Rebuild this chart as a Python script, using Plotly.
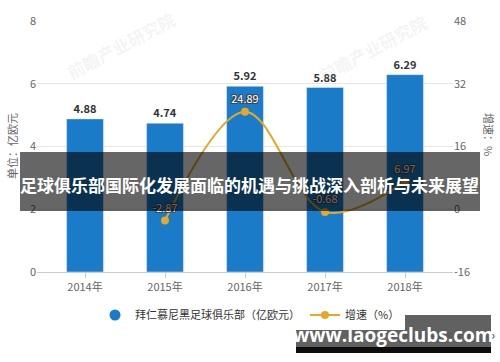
import plotly.graph_objects as go

categories = ["2014年", "2015年", "2016年", "2017年", "2018年"]
revenue = [4.88, 4.74, 5.92, 5.88, 6.29]
growth_x = ["2015年", "2016年", "2017年", "2018年"]
growth = [-2.87, 24.89, -0.68, 6.97]
left_ticks = [0, 2, 4, 6, 8]
right_ticks = [-16, 0, 16, 32, 48]
right_tick_text = ["-16", "0", "16", "32", "48"]

W, H = 500, 362
L, R, T, B = 37, 453, 21, 272


def px(x):
    return (x - L) / (R - L)


def py(y):
    return (B - y) / (B - T)


FONT = "Noto Sans CJK SC, Noto Sans, sans-serif"
BLUE = "#1a7bc9"
GOLD = "#e5a828"

fig = go.Figure()
fig.add_trace(go.Bar(
    x=categories, y=revenue, width=0.46, marker_color=BLUE,
    text=[f"{v:.2f}" for v in revenue], textposition="outside",
    textfont=dict(size=11, color="#333333", family=FONT, weight="bold"),
    cliponaxis=False, showlegend=False, yaxis="y",
))
fig.add_trace(go.Scatter(
    x=[None], y=[None], mode="markers", name="拜仁慕尼黑足球俱乐部（亿欧元）",
    marker=dict(color=BLUE, size=11, symbol="circle"), yaxis="y",
))
fig.add_trace(go.Scatter(
    x=growth_x, y=growth, mode="lines+markers+text", name="增速（%）",
    line=dict(color=GOLD, width=2, shape="spline"),
    marker=dict(color=GOLD, size=8),
    text=[f"{v:.2f}" for v in growth], textposition="top center",
    textfont=dict(size=11, color="white", family=FONT,
                  shadow="-1px -1px 0 #444, 1px -1px 0 #444, -1px 1px 0 #444, 1px 1px 0 #444"),
    cliponaxis=False, yaxis="y2",
))

shapes = [
    dict(type="rect", xref="paper", yref="paper", x0=px(20), x1=px(480), y0=py(152), y1=py(211),
         fillcolor="rgba(0,0,0,0.6)", line_width=0, layer="above"),
    dict(type="rect", xref="paper", yref="paper", x0=px(296), x1=px(491), y0=py(315), y1=py(347),
         fillcolor="rgba(0,0,0,0.62)", line_width=0, layer="above"),
    dict(type="rect", xref="paper", yref="paper", x0=px(296), x1=px(491), y0=py(347), y1=py(353),
         fillcolor="rgba(0,0,0,0.95)", line_width=0, layer="above"),
]


def ann(text, x, y, **kw):
    d = dict(text=text, x=px(x), y=py(y), xref="paper", yref="paper", showarrow=False,
             xanchor="center", yanchor="middle")
    d.update(kw)
    return d


annotations = [
    ann("前瞻产业研究院", 120, 45, textangle=-28,
        font=dict(size=17, color="rgba(170,170,170,0.14)", family=FONT, weight="bold")),
    ann("前瞻产业研究院", 372, 48, textangle=-28,
        font=dict(size=17, color="rgba(170,170,170,0.14)", family=FONT, weight="bold")),
    ann("单位：亿欧元", 12, 146, textangle=-90, font=dict(size=11, color="#666666", family=FONT)),
    ann("增速：%", 489, 135, textangle=90, font=dict(size=11, color="#666666", family=FONT)),
    ann("@前瞻经济学人APP", 497, 337, xanchor="right",
        font=dict(size=11, color="#555555", family=FONT)),
    ann("足球俱乐部国际化发展面临的机遇与挑战深入剖析与未来展望", 249, 184,
        font=dict(size=17, color="white", family=FONT, weight="bold")),
    ann("www.laogeclubs.com", 393, 335,
        font=dict(size=19, color="white", family="Open Sans, Noto Sans, sans-serif", weight="bold")),
]

fig.update_layout(
    width=W, height=H,
    margin=dict(l=L, r=W - R, t=T, b=H - B),
    paper_bgcolor="white", plot_bgcolor="white",
    font=dict(family=FONT, size=11, color="#666666"),
    xaxis=dict(type="category", categoryorder="array", categoryarray=categories,
               range=[-0.6, 4.6], showgrid=False, showline=True, linecolor="#cccccc",
               ticks="outside", ticklen=5, tickcolor="#cccccc",
               tickfont=dict(size=11, color="#666666")),
    yaxis=dict(range=[0, 8], tickvals=left_ticks, showgrid=True, gridcolor="#e6e6e6",
               zeroline=False, showline=False, tickfont=dict(size=11, color="#666666")),
    yaxis2=dict(range=[-16, 48], tickvals=right_ticks, ticktext=right_tick_text,
                overlaying="y", side="right", showgrid=False, zeroline=False,
                tickfont=dict(size=11, color="#666666")),
    legend=dict(orientation="h", x=px(250), xanchor="center", y=py(315), yanchor="middle",
                font=dict(size=11, color="#333333", family=FONT), traceorder="normal"),
    shapes=shapes, annotations=annotations,
    bargap=0.54,
)

fig.write_html("out.html")
